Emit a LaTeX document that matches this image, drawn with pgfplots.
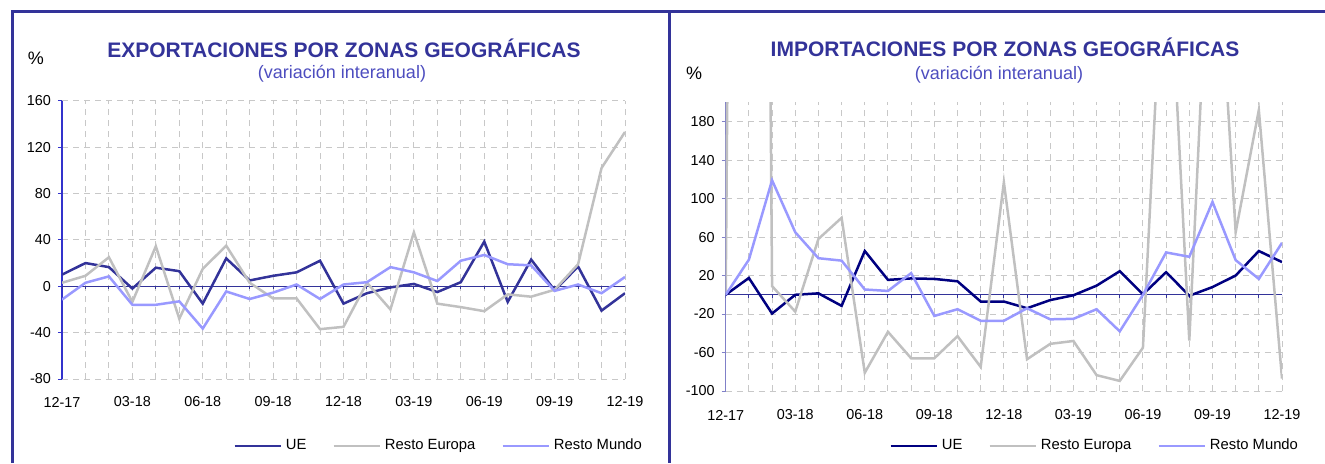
\documentclass[border=0pt]{standalone}
\usepackage{fontspec}
\setmainfont{Liberation Sans}
\usepackage{pgfplots}
\usepackage{pgfplotstable}
\pgfplotsset{compat=1.18}

\definecolor{frame}{HTML}{333399}
\definecolor{ueL}{HTML}{333399}
\definecolor{ueR}{HTML}{000080}
\definecolor{reuro}{HTML}{C0C0C0}
\definecolor{rmundo}{HTML}{9999FF}
\definecolor{subt}{HTML}{4D4DBF}
\definecolor{axL}{HTML}{3333CC}
\definecolor{axR}{HTML}{8080C8}
\definecolor{gridc}{HTML}{C8C8C8}

% exportaciones, variacion interanual (%)
\pgfplotstableread{
k  ue    re     rm
0  10    3      -11.5
1  20    9      3
2  16.5  25     8.5
3  -2    -13.5  -16
4  16    34.5   -16
5  13    -28    -13
6  -15   15     -36.5
7  24    35     -4.5
8  5     3      -11
9  9     -10.5  -5.5
10 12    -10.5  1.5
11 22    -37    -11
12 -15   -35    1.5
13 -6    3      3.5
14 -1    -20    16.5
15 2     46.5   12
16 -5    -15    4.5
17 3.5   -18    22
18 38.5  -21.5  27
19 -13.5 -7     19
20 23    -9     18
21 -3.5  -3     -4
22 17    19     1.5
23 -21   102    -6
24 -6    133    8
}\exports

% importaciones, variacion interanual (%)
\pgfplotstableread{
k  ue    re     rm
0  0     0      0
1  17.5  3000   36.5
2  -19.5 9      119
3  0     -17.5  65
4  1.5   58     38
5  -11.5 80     35.5
6  45.5  -81    5.5
7  15.5  -38.5  4
8  17    -66    22.5
9  16.5  -66    -22
10 14    -43    -15
11 -7    -75    -27
12 -7    117    -27
13 -14   -67    -14
14 -5.5  -51    -25.5
15 -0.5  -48    -25
16 9.5   -83.5  -15
17 24.5  -89.5  -38
18 0.5   -55    0
19 23.5  420    44
20 -1    -47.5  39.5
21 8     460    96.5
22 20    65     36
23 45.5  192    16.5
24 34    -87    54
}\imports

\pgfplotsset{
  panel/.style={
    scale only axis,
    xmin=0, xmax=24,
    axis x line*=bottom,
    axis y line*=left,
    x axis line style={draw=none},
    xtick={0,3,...,24},
    xticklabels={12-17,03-18,06-18,09-18,12-18,03-19,06-19,09-19,12-19},
    minor xtick={0,...,24},
    x tick style={draw=none},
    xmajorgrids, xminorgrids, ymajorgrids,
    major grid style={gridc, line width=0.5pt, dash pattern=on 3pt off 2.5pt},
    minor grid style={gridc, line width=0.5pt, dash pattern=on 3pt off 2.5pt},
    tick align=outside,
    major tick length=2pt,
    tick label style={font=\fontsize{7.2}{8}\selectfont, text=black},
    /pgf/number format/assume math mode=true,
    legend columns=3,
    legend style={draw=none, fill=none, inner sep=0pt, anchor=west,
      font=\fontsize{7.4}{9}\selectfont,
      /tikz/every even column/.append style={column sep=11pt}},
    legend image code/.code={\draw[##1] (0pt,0pt) -- (23pt,0pt);},
    every axis plot/.append style={line width=1.25pt},
  }
}

\begin{document}
\begin{tikzpicture}
\path[use as bounding box] (0,0) rectangle (662.5pt,-231.5pt);

% marco
\draw[frame, line width=1.5pt] (6pt,-231.5pt) -- (6pt,-5.5pt) -- (662.5pt,-5.5pt);
\draw[frame, line width=1.5pt] (334.5pt,-5.5pt) -- (334.5pt,-231.5pt);

% titulos
\node[text=frame, font=\bfseries\fontsize{10.5}{12}\selectfont] at (172pt,-24pt) {EXPORTACIONES POR ZONAS GEOGRÁFICAS};
\node[text=subt, font=\fontsize{9}{11}\selectfont] at (171pt,-37pt) {(variación interanual)};
\node[font=\fontsize{9}{11}\selectfont] at (18pt,-29pt) {\%};

\node[text=frame, font=\bfseries\fontsize{10.5}{12}\selectfont] at (502.5pt,-23.5pt) {IMPORTACIONES POR ZONAS GEOGRÁFICAS};
\node[text=subt, font=\fontsize{9}{11}\selectfont] at (499.5pt,-37.5pt) {(variación interanual)};
\node[font=\fontsize{9}{11}\selectfont] at (347pt,-36.5pt) {\%};

% exportaciones
\begin{axis}[panel,
  at={(31pt,-189.5pt)}, anchor=south west,
  width=281.5pt, height=139.15pt,
  ymin=-80, ymax=160, ytick={-80,-40,...,160},
  y axis line style={axL, line width=0.7pt},
  y tick style={axL, line width=0.5pt},
  xticklabel style={anchor=center, yshift=-9.5pt},
  legend style={at={(axis description cs:0.3037,-0.241)}},
]
\draw[ueL, line width=0.6pt] (axis cs:0,0) -- (axis cs:24,0);
\pgfplotsinvokeforeach{0,...,24}{\draw[ueL, line width=0.5pt] (axis cs:#1,0) -- ++(0pt,-1.5pt);}
\addplot[ueL] table[x=k, y=ue] {\exports};
\addlegendentry{UE}
\addplot[reuro] table[x=k, y=re] {\exports};
\addlegendentry{Resto Europa}
\addplot[rmundo] table[x=k, y=rm] {\exports};
\addlegendentry{Resto Mundo}
\end{axis}

% importaciones
\begin{axis}[panel,
  at={(362.85pt,-195.5pt)}, anchor=south west,
  width=278.15pt, height=144.35pt,
  ymin=-100, ymax=200, ytick={-100,-60,...,180},
  y axis line style={axR, line width=0.7pt},
  y tick style={axR, line width=0.5pt},
  xticklabel style={anchor=center, yshift=-10pt},
  legend style={at={(axis description cs:0.2935,-0.1905)}},
]
\draw[frame, line width=0.6pt] (axis cs:0,0) -- (axis cs:24,0);
\pgfplotsinvokeforeach{0,...,24}{\draw[frame, line width=0.5pt] (axis cs:#1,0) -- ++(0pt,-1.5pt);}
\addplot[ueR] table[x=k, y=ue] {\imports};
\addlegendentry{UE}
\addplot[reuro] table[x=k, y=re] {\imports};
\addlegendentry{Resto Europa}
\addplot[rmundo] table[x=k, y=rm] {\imports};
\addlegendentry{Resto Mundo}
\end{axis}
\end{tikzpicture}
\end{document}
